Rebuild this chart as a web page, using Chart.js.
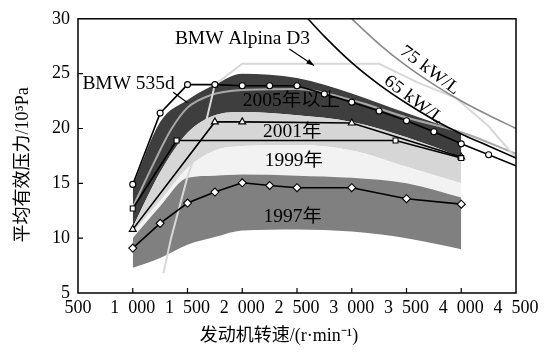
<!DOCTYPE html>
<html>
<head>
<meta charset="utf-8">
<script src="https://cdn.jsdelivr.net/npm/chart.js@4"></script>
<style>
  html, body { margin: 0; padding: 0; background: #fff; }
  #wrap { width: 552px; height: 352px; }
</style>
</head>
<body>
<div id="wrap"><canvas id="bmepChart" width="552" height="352"></canvas></div>
<script>
// engine speed grid of the year bands (r/min) and band edges (10^5 Pa)
const bandRpm = [1000, 1250, 1500, 1750, 2000, 2500, 3000, 3500, 4000];
const band1997Low = [7.3, 8.2, 9.4, 10.1, 10.7, 10.8, 10.6, 10.0, 9.0];
const band1997High = [10.0, 12.9, 15.5, 15.7, 15.8, 15.7, 15.5, 15.0, 13.7];
const band1999High = [10.5, 13.4, 16.4, 18.0, 18.4, 18.5, 18.0, 16.5, 15.0];
const band2005Low = [11.0, 16.0, 19.6, 21.2, 21.5, 21.2, 20.6, 19.2, 17.4];
const band2005High = [14.8, 20.6, 22.6, 24.0, 25.0, 24.6, 23.2, 21.4, 19.7];

// grey mean line inside the 2005 band
const meanRpm = [1000, 1200, 1350, 1500, 1700, 2000, 2500, 3000, 3500, 4000, 4500];
const meanBmep = [12.8, 17.0, 19.9, 21.9, 23.0, 23.5, 23.6, 22.6, 21.0, 19.65, 17.7];

// BMW Alpina D3
const alpinaRpm = [1280, 1350, 1500, 1650, 1750, 2000, 3250, 3600, 3950, 4250, 4500];
const alpinaBmep = [6.8, 10.0, 15.6, 19.8, 24.0, 25.9, 25.9, 24.2, 22.8, 20.2, 17.3];

// specific power lines
const kw75Rpm = [3000, 3250, 3500, 3750, 4000, 4250, 4500];
const kw75Bmep = [30.0, 27.7, 25.7, 24.0, 22.5, 21.2, 20.0];
const kw65Rpm = [2600, 2750, 3000, 3250, 3500, 3750, 4000, 4250, 4500];
const kw65Bmep = [30.0, 28.4, 26.0, 24.0, 22.3, 20.8, 19.5, 18.4, 17.3];

// engines with markers
const y1997Rpm = [1000, 1250, 1500, 1750, 2000, 2250, 2500, 3000, 3500, 4000];
const y1997Bmep = [9.1, 11.35, 13.2, 14.2, 15.05, 14.8, 14.6, 14.6, 13.6, 13.1];
const y1999Rpm = [1000, 1400, 3400, 4000];
const y1999Bmep = [12.7, 18.9, 18.9, 17.3];
const y2001Rpm = [1000, 1750, 2000, 3000, 4000];
const y2001Bmep = [10.8, 20.6, 20.6, 20.5, 17.4];
const bmw535Rpm = [1000, 1250, 1500, 1750, 2000, 2250, 2500, 2750, 3000, 3250, 3500, 3750, 4000, 4250, 4500];
const bmw535Bmep = [14.9, 21.4, 24.0, 24.0, 23.9, 23.9, 23.9, 23.15, 22.4, 21.6, 20.7, 19.7, 18.6, 17.6, 16.6];

const serif = '"Liberation Serif", "Noto Sans CJK SC", serif';

// text labels in data units
const labels = [
  { text: "BMW Alpina D3", x: 1385, y: 28.1, align: "left", rot: 0 },
  { text: "BMW 535d", x: 540, y: 24.0, align: "left", rot: 0 },
  { text: "2005年以上", x: 2005, y: 22.45, align: "left", rot: 0 },
  { text: "2001年", x: 2190, y: 19.7, align: "left", rot: 0 },
  { text: "1999年", x: 2205, y: 17.0, align: "left", rot: 0 },
  { text: "1997年", x: 2195, y: 11.95, align: "left", rot: 0 },
  { text: "75 kW/L", x: 3712, y: 25.3, align: "center", rot: 37 },
  { text: "65 kW/L", x: 3566, y: 22.6, align: "center", rot: 37 },
];

function pts(xs, ys) {
  return xs.map((x, i) => ({ x: x, y: ys[i] }));
}

function band(xs, ys, target, color) {
  return {
    data: pts(xs, ys),
    borderWidth: 0,
    borderColor: "transparent",
    pointRadius: 0,
    cubicInterpolationMode: "monotone",
    fill: target === null ? false : { target: target },
    backgroundColor: color,
    order: 20,
  };
}

function marked(xs, ys, style, radius) {
  return {
    data: pts(xs, ys),
    borderColor: "#000",
    borderWidth: 1.6,
    pointStyle: style,
    pointRadius: radius,
    pointBackgroundColor: "#fff",
    pointBorderColor: "#000",
    pointBorderWidth: 1.1,
    fill: false,
    order: 1,
  };
}

const annotate = {
  id: "annotate",
  afterDatasetsDraw(chart) {
    const { ctx, scales: { x, y } } = chart;
    ctx.save();
    ctx.fillStyle = "#000";
    ctx.strokeStyle = "#000";
    ctx.font = "18px " + serif;
    ctx.textBaseline = "middle";
    labels.forEach((l) => {
      ctx.save();
      ctx.translate(x.getPixelForValue(l.x), y.getPixelForValue(l.y));
      ctx.rotate((l.rot * Math.PI) / 180);
      ctx.scale(1.08, 1);
      ctx.textAlign = l.align;
      ctx.fillText(l.text, 0, 0);
      ctx.restore();
    });

    // leader of BMW 535d
    ctx.lineWidth = 1.2;
    ctx.beginPath();
    ctx.moveTo(x.getPixelForValue(1370), y.getPixelForValue(23.3));
    ctx.lineTo(x.getPixelForValue(1500), y.getPixelForValue(22.35));
    ctx.stroke();

    // arrow of Alpina D3
    const x1 = x.getPixelForValue(2430), y1 = y.getPixelForValue(27.25);
    const x2 = x.getPixelForValue(2655), y2 = y.getPixelForValue(25.75);
    const ang = Math.atan2(y2 - y1, x2 - x1);
    ctx.beginPath();
    ctx.moveTo(x1, y1);
    ctx.lineTo(x2, y2);
    ctx.stroke();
    ctx.beginPath();
    ctx.moveTo(x2, y2);
    ctx.lineTo(x2 - 8 * Math.cos(ang - 0.35), y2 - 8 * Math.sin(ang - 0.35));
    ctx.lineTo(x2 - 8 * Math.cos(ang + 0.35), y2 - 8 * Math.sin(ang + 0.35));
    ctx.closePath();
    ctx.fill();
    ctx.restore();
  },
  afterDraw(chart) {
    const { ctx, chartArea: a, scales: { x, y } } = chart;
    ctx.save();
    ctx.strokeStyle = "#000";
    ctx.lineWidth = 1.5;
    ctx.strokeRect(a.left, a.top, a.right - a.left, a.bottom - a.top);
    ctx.lineWidth = 1.2;
    ctx.beginPath();
    for (let v = 1000; v <= 4000; v += 500) {
      const px = x.getPixelForValue(v);
      ctx.moveTo(px, a.bottom);
      ctx.lineTo(px, a.bottom - 5);
    }
    for (let v = 10; v <= 25; v += 5) {
      const py = y.getPixelForValue(v);
      ctx.moveTo(a.left, py);
      ctx.lineTo(a.left + 5, py);
    }
    ctx.stroke();
    ctx.restore();
  },
};

document.addEventListener("DOMContentLoaded", () => {
  const ctx = document.getElementById("bmepChart").getContext("2d");
  new Chart(ctx, {
    type: "line",
    data: {
      datasets: [
        band(bandRpm, band1997Low, null, "transparent"),
        band(bandRpm, band1997High, 0, "#808080"),
        band(bandRpm, band1999High, 1, "#f2f2f2"),
        band(bandRpm, band2005Low, 2, "#d6d6d6"),
        band(bandRpm, band2005High, 3, "#3e3e3e"),
        {
          data: pts(meanRpm, meanBmep),
          borderColor: "#a8a8a8",
          borderWidth: 2,
          pointRadius: 0,
          cubicInterpolationMode: "monotone",
          fill: false,
          order: 8,
        },
        {
          data: pts(alpinaRpm, alpinaBmep),
          borderColor: "#d8d8d8",
          borderWidth: 2,
          pointRadius: 0,
          fill: false,
          order: 7,
        },
        {
          data: pts(kw75Rpm, kw75Bmep),
          borderColor: "#8a8a8a",
          borderWidth: 1.6,
          pointRadius: 0,
          cubicInterpolationMode: "monotone",
          fill: false,
          order: 6,
        },
        {
          data: pts(kw65Rpm, kw65Bmep),
          borderColor: "#000",
          borderWidth: 1.6,
          pointRadius: 0,
          cubicInterpolationMode: "monotone",
          fill: false,
          order: 5,
        },
        marked(y1997Rpm, y1997Bmep, "rectRot", 4),
        marked(y1999Rpm, y1999Bmep, "rect", 3.5),
        marked(y2001Rpm, y2001Bmep, "triangle", 4),
        Object.assign(marked(bmw535Rpm, bmw535Bmep, "circle", 3), {
          pointRadius: bmw535Rpm.map((r) => (r > 4250 ? 0 : 3)),
        }),
      ],
    },
    options: {
      responsive: false,
      animation: false,
      layout: { padding: { left: 0, right: 36, top: 12, bottom: 0 } },
      plugins: { legend: { display: false }, tooltip: { enabled: false } },
      scales: {
        x: {
          type: "linear",
          min: 500,
          max: 4500,
          border: { display: false },
          grid: { display: false, drawTicks: false },
          ticks: {
            stepSize: 500,
            padding: 4,
            autoSkip: false,
            maxRotation: 0,
            color: "#000",
            font: { family: serif, size: 18 },
            callback: (v) =>
              v < 1000 ? String(v) : Math.floor(v / 1000) + "\u2002" + String(v % 1000).padStart(3, "0"),
          },
          title: {
            display: true,
            text: "发动机转速/(r·min⁻¹)\u2002\u2002\u2002\u2002",
            color: "#000",
            font: { family: serif, size: 18 },
            padding: { top: 0, bottom: 5 },
          },
          afterFit(scale) {
            scale.height = 59;
          },
        },
        y: {
          min: 5,
          max: 30,
          border: { display: false },
          grid: { display: false, drawTicks: false },
          ticks: {
            stepSize: 5,
            padding: 8,
            color: "#000",
            font: { family: serif, size: 18 },
          },
          title: {
            display: true,
            text: "平均有效压力/10⁵Pa\u2002\u2002",
            color: "#000",
            font: { family: serif, size: 18 },
            padding: { top: 12, bottom: 0 },
          },
          afterFit(scale) {
            scale.width = 78;
          },
        },
      },
    },
    plugins: [annotate],
  });
});
</script>
</body>
</html>
